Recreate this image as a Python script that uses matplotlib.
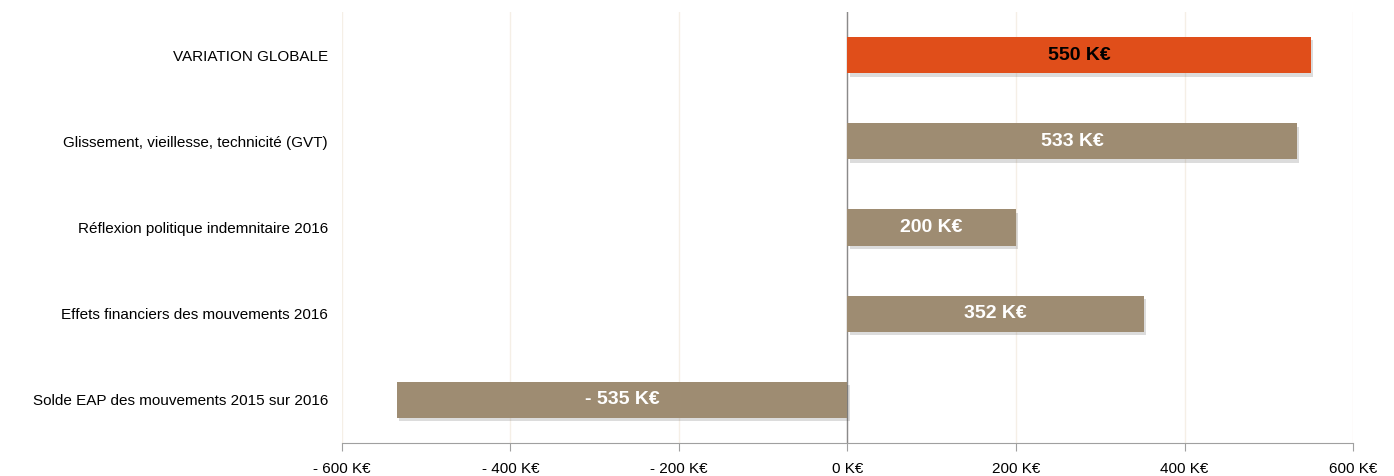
import matplotlib.pyplot as plt
import matplotlib.patheffects as pe
import numpy as np

plt.rcParams['font.family'] = ['Liberation Sans', 'DejaVu Sans']

categories = ["VARIATION GLOBALE",
              "Glissement, vieillesse, technicité (GVT)",
              "Réflexion politique indemnitaire 2016",
              "Effets financiers des mouvements 2016",
              "Solde EAP des mouvements 2015 sur 2016"]
values = [550, 533, 200, 352, -535]
labels = ["550 K€", "533 K€", "200 K€", "352 K€", "- 535 K€"]
ticks = [-600, -400, -200, 0, 200, 400, 600]
tick_labels = ["- 600 K€", "- 400 K€", "- 200 K€", "0 K€", "200 K€", "400 K€", "600 K€"]

orange = "#E04E1A"
taupe = "#9E8C72"
colors = [orange] + [taupe] * 4
text_colors = ["black"] + ["white"] * 4

fig = plt.figure(figsize=(13.94, 4.76), dpi=100)
ax = fig.add_axes([0.2453, 0.0693, 0.7253, 0.9057])

y = np.arange(len(categories))
bars = ax.barh(y, values, height=0.42, color=colors, zorder=3)
for b in bars:
    b.set_path_effects([pe.SimplePatchShadow(offset=(1.5, -2.5), alpha=0.18, shadow_rgbFace="#404040"),
                        pe.Normal()])

for i, b in enumerate(bars):
    cx = b.get_x() + b.get_width() / 2
    ax.text(cx, y[i], labels[i], ha="center", va="center", fontsize=14,
            fontweight="bold", color=text_colors[i], zorder=4)

ax.set_ylim(len(categories) - 0.5, -0.5)
ax.set_xlim(-600, 600)
ax.set_yticks(y)
ax.set_yticklabels(categories, fontsize=11)
ax.tick_params(axis="y", length=0, pad=10)
ax.set_xticks(ticks)
ax.set_xticklabels(tick_labels, fontsize=11)
ax.tick_params(axis="x", direction="out", length=6, color="#a0a0a0", pad=8)

ax.grid(axis="x", color="#F5EFE6", linewidth=1, zorder=0)
ax.axvline(0, color="#8a8a8a", linewidth=1, zorder=2)
for s in ["top", "right", "left"]:
    ax.spines[s].set_visible(False)
ax.spines["bottom"].set_color("#a0a0a0")

fig.savefig("out.png", dpi=100)
